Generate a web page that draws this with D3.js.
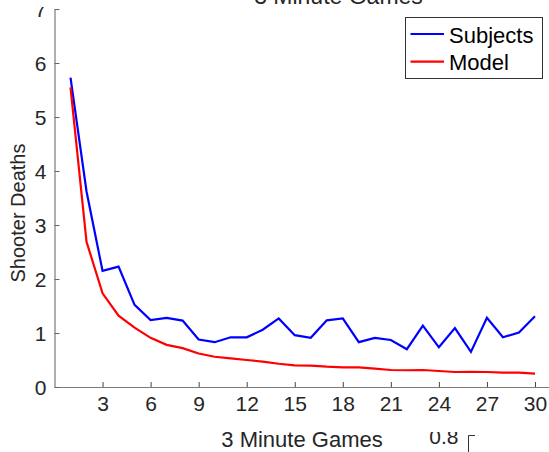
<!DOCTYPE html>
<html>
<head>
<meta charset="utf-8">
<script src="https://cdn.jsdelivr.net/npm/d3@7"></script>
<style>
  html, body { margin: 0; padding: 0; background: #fff; }
  svg { display: block; font-family: "Liberation Sans", Arial, sans-serif; }
</style>
</head>
<body>
<svg id="chart" width="549" height="452"></svg>
<script>
// Games 1..30 (3 minute games)
const games = d3.range(1, 31);
// Mean shooter deaths per game
const subjects = [5.73, 3.62, 2.15, 2.23, 1.52, 1.24, 1.28, 1.23, 0.88, 0.83,
                  0.92, 0.92, 1.06, 1.27, 0.96, 0.91, 1.235, 1.27, 0.83, 0.91,
                  0.87, 0.70, 1.135, 0.735, 1.09, 0.65, 1.28, 0.92, 1.01, 1.31];
const model = [5.55, 2.69, 1.735, 1.32, 1.10, 0.91, 0.78, 0.72, 0.62, 0.56,
               0.53, 0.50, 0.47, 0.43, 0.40, 0.395, 0.376, 0.364, 0.364, 0.34,
               0.315, 0.31, 0.315, 0.296, 0.278, 0.28, 0.278, 0.265, 0.265, 0.246];
const xTicks = [3, 6, 9, 12, 15, 18, 21, 24, 27, 30];
const yTicks = [0, 1, 2, 3, 4, 5, 6, 7];
const seriesNames = ["Subjects", "Model"];
const seriesColors = ["#0000ff", "#ff0000"];

const svg = d3.select("#chart");
const plot = { left: 54.5, right: 551, top: 9, bottom: 387 };

const x = d3.scaleLinear().domain([0, 31]).range([plot.left, plot.right]);
const y = d3.scaleLinear().domain([0, 7]).range([plot.bottom, plot.top]);

const axisColor = "#7a7a7a";
const tickText = "#262626";

// the panel is cropped a few pixels above the top tick label
svg.append("clipPath").attr("id", "panelClip")
  .append("rect").attr("x", 0).attr("y", 7).attr("width", 549).attr("height", 445);

// x axis
const xAxis = svg.append("g").attr("transform", `translate(0,${plot.bottom})`)
  .call(d3.axisBottom(x).tickValues(xTicks).tickSizeInner(-5).tickSizeOuter(0)
    .tickFormat(d3.format("d")));
xAxis.select(".domain").attr("stroke", axisColor).attr("stroke-width", 1.2);
xAxis.selectAll(".tick line").attr("stroke", "#444");
xAxis.selectAll(".tick text").attr("fill", tickText).attr("font-size", 21)
  .attr("dy", 0).attr("y", 24);

// y axis
const yAxisWrap = svg.append("g").attr("clip-path", "url(#panelClip)");
const yAxis = yAxisWrap.append("g").attr("transform", `translate(${plot.left},0)`)
  .call(d3.axisLeft(y).tickValues(yTicks).tickSizeInner(-5).tickSizeOuter(0)
    .tickFormat(d3.format("d")));
yAxis.select(".domain").attr("stroke", axisColor).attr("stroke-width", 1.2);
yAxis.selectAll(".tick line").attr("stroke", "#666");
yAxis.selectAll(".tick text").attr("fill", tickText).attr("font-size", 21)
  .attr("x", -8).attr("dy", "0.36em");

// title, partly above the visible area
svg.append("text").attr("x", 338.5).attr("y", 4).attr("text-anchor", "middle")
  .attr("font-size", 23).attr("fill", tickText).text("3 Minute Games");

// axis labels
svg.append("text").attr("x", 302).attr("y", 447).attr("text-anchor", "middle")
  .attr("font-size", 22).attr("fill", tickText).text("3 Minute Games");
svg.append("text").attr("transform", "translate(25,213) rotate(-90)")
  .attr("text-anchor", "middle").attr("font-size", 20).attr("fill", tickText)
  .text("Shooter Deaths");

// series lines
const line = d3.line().x((d, i) => x(games[i])).y(d => y(d));
[subjects, model].forEach((vals, k) => {
  svg.append("path").datum(vals).attr("d", line)
    .attr("fill", "none").attr("stroke", seriesColors[k])
    .attr("stroke-width", 2.2).attr("stroke-linejoin", "miter");
});

// legend
const lg = svg.append("g");
lg.append("rect").attr("x", 405.5).attr("y", 17.5).attr("width", 137).attr("height", 61)
  .attr("fill", "#fff").attr("stroke", "#333").attr("stroke-width", 1);
seriesNames.forEach((name, k) => {
  const cy = 34 + k * 27.7;
  lg.append("line").attr("x1", 410.5).attr("x2", 444).attr("y1", cy).attr("y2", cy)
    .attr("stroke", seriesColors[k]).attr("stroke-width", 2.2);
  lg.append("text").attr("x", 449).attr("y", cy + 8.5).attr("font-size", 22)
    .attr("fill", "#000").text(name);
});

// neighbouring panel peeking in at the bottom edge
svg.append("clipPath").attr("id", "lowerClip")
  .append("rect").attr("x", 400).attr("y", 432).attr("width", 149).attr("height", 20);
const lower = svg.append("g").attr("clip-path", "url(#lowerClip)");
lower.append("text").attr("x", 458.5).attr("y", 444).attr("text-anchor", "end")
  .attr("font-size", 21).attr("fill", tickText).text("0.8");
lower.append("path").attr("d", "M468.5,455V435.5H475")
  .attr("fill", "none").attr("stroke", "#333").attr("stroke-width", 1);
</script>
</body>
</html>
